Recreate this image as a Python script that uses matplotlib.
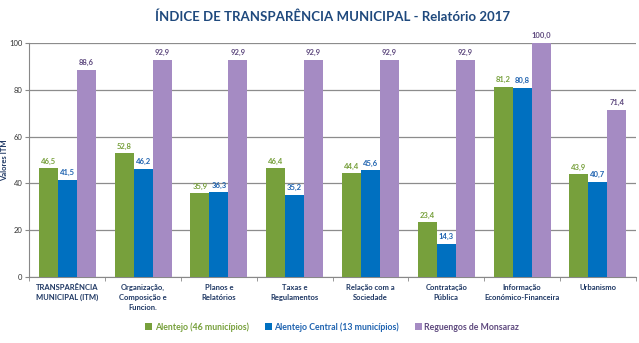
import numpy as np
import matplotlib.pyplot as plt

plt.rcParams['font.family'] = ['Lato', 'DejaVu Sans']

categorias = ["TRANSPARÊNCIA\nMUNICIPAL (ITM)", "Organização,\nComposição e\nFuncion.",
              "Planos e\nRelatórios", "Taxas e\nRegulamentos", "Relação com a\nSociedade",
              "Contratação\nPública", "Informação\nEconómico-Financeira", "Urbanismo"]
alentejo = [46.5, 52.8, 35.9, 46.4, 44.4, 23.4, 81.2, 43.9]
alentejo_central = [41.5, 46.2, 36.3, 35.2, 45.6, 14.3, 80.8, 40.7]
reguengos = [88.6, 92.9, 92.9, 92.9, 92.9, 92.9, 100.0, 71.4]

series = [("Alentejo (46 municípios)", alentejo, "#77A03C", "#77A03C"),
          ("Alentejo Central (13 municípios)", alentejo_central, "#0070C0", "#1F63B0"),
          ("Reguengos de Monsaraz", reguengos, "#A58BC3", "#5F4A7F")]

fig = plt.figure(figsize=(6.39, 3.43), dpi=100)
ax = fig.add_axes([0.046, 0.192, 0.949, 0.683])

x = np.arange(len(categorias))
w = 0.25
for i, (nome, vals, cor, cor_txt) in enumerate(series):
    pos = x + (i - 1) * w
    bars = ax.bar(pos, vals, w, color=cor, label=nome, zorder=3)
    for xi, v in zip(pos, vals):
        ax.text(xi, v + 1.5, f"{v:.1f}".replace(".", ","), ha="center", va="bottom",
                fontsize=5.5, fontweight="bold", color=cor_txt, zorder=4)

ax.set_xlim(-0.5, len(categorias) - 0.5)
ax.set_ylim(0, 100)
ax.set_yticks(range(0, 101, 20))
ax.tick_params(axis="y", labelsize=5.5, length=3, color="#888888", pad=2, labelcolor="#333333")
ax.set_xticks(x)
ax.set_xticklabels(categorias, fontsize=5.5, fontweight="bold", color="#1F3864", linespacing=1.5)
ax.tick_params(axis="x", length=0, pad=5)
ax.set_xticks(np.arange(-0.5, len(categorias)), minor=True)
ax.tick_params(axis="x", which="minor", length=3, color="#888888")
ax.grid(axis="y", color="#8c8c8c", linewidth=0.9, zorder=0)
for s in ["top", "right"]:
    ax.spines[s].set_visible(False)
ax.spines["left"].set_color("#888888")
ax.spines["bottom"].set_color("#888888")
ax.set_ylabel("Valores ITM", fontsize=5.5, fontweight="bold", color="#1F3864", labelpad=1)

fig.suptitle("ÍNDICE DE TRANSPARÊNCIA MUNICIPAL - Relatório 2017", x=0.52, y=0.97,
             fontsize=9.5, fontweight="bold", color="#1F497D")

leg = fig.legend(loc="lower center", bbox_to_anchor=(0.52, 0.01), ncol=3, frameon=False,
                 fontsize=6.3, handlelength=0.8, handleheight=0.8, handletextpad=0.3, columnspacing=1.8)
for t, (_, _, cor, cor_txt) in zip(leg.get_texts(), series):
    t.set_color(cor_txt if cor != "#77A03C" else cor)
    t.set_fontweight("bold")

fig.savefig("out.png", dpi=100)
